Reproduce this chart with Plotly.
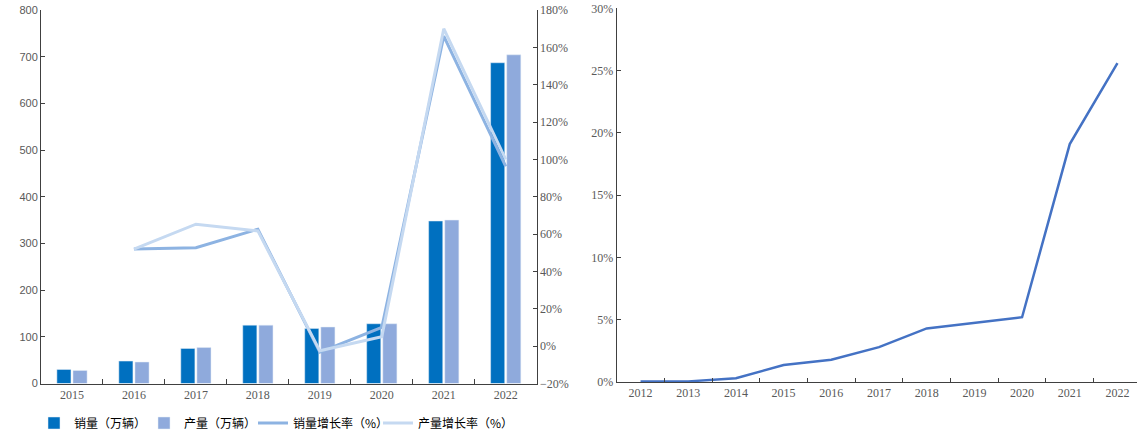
import plotly.graph_objects as go

years = ["2015", "2016", "2017", "2018", "2019", "2020", "2021", "2022"]
sales = [30, 48, 75, 125, 118, 128, 348, 687]
production = [28, 46, 77, 125, 121, 128, 350, 704]
sales_growth_years = ["2016", "2017", "2018", "2019", "2020", "2021", "2022"]
sales_growth = [52, 52.7, 62.6, -3.2, 10, 166, 96.3]
prod_growth = [52, 65.3, 61.7, -2.5, 5, 170, 100]

pen_years = ["2012", "2013", "2014", "2015", "2016", "2017", "2018", "2019", "2020", "2021", "2022"]
penetration = [0.05, 0.05, 0.3, 1.36, 1.78, 2.8, 4.3, 4.75, 5.2, 19.1, 25.6]

serif = "Liberation Serif, Times New Roman, serif"
narrow = "Liberation Sans Narrow, Liberation Sans, Arial, sans-serif"
cjk = "Noto Sans CJK SC, sans-serif"
grey = "#595959"
axis_col = "#404040"

fig = go.Figure()
fig.add_trace(go.Bar(x=years, y=sales, name="销量（万辆）", marker_color="#0070C0",
                     xaxis="x", yaxis="y", legend="legend"))
fig.add_trace(go.Bar(x=years, y=production, name="产量（万辆）", marker_color="#8FAADC",
                     xaxis="x", yaxis="y", legend="legend2"))
fig.add_trace(go.Scatter(x=sales_growth_years, y=sales_growth, name="销量增长率（%）",
                         mode="lines", line=dict(color="#8DB3E2", width=3),
                         xaxis="x", yaxis="y2", legend="legend3"))
fig.add_trace(go.Scatter(x=sales_growth_years, y=prod_growth, name="产量增长率（%）",
                         mode="lines", line=dict(color="#C5D9F1", width=3),
                         xaxis="x", yaxis="y2", legend="legend4"))
fig.add_trace(go.Scatter(x=pen_years, y=penetration, mode="lines", showlegend=False,
                         line=dict(color="#4472C4", width=2.5),
                         xaxis="x3", yaxis="y3"))

W, H = 1137, 437
ydom = [(H - 383.5) / H, (H - 10) / H]


def leg(xpx):
    return dict(orientation="h", x=xpx / W, y=(H - 423) / H, xanchor="left", yanchor="middle",
                font=dict(family=cjk, size=12, color="#000000"),
                itemwidth=30, bgcolor="rgba(0,0,0,0)")


fig.update_layout(
    width=W, height=H,
    margin=dict(l=0, r=0, t=0, b=0, autoexpand=False),
    paper_bgcolor="white", plot_bgcolor="white",
    barmode="group", bargap=0.48, bargroupgap=0.125,
    showlegend=True,
    legend=leg(34), legend2=leg(144), legend3=leg(253), legend4=leg(378),
    xaxis=dict(domain=[41 / W, 536.7 / W], anchor="y", type="category", automargin=False,
               range=[-0.5, 7.5],
               showline=True, linecolor=axis_col, linewidth=1,
               ticks="inside", ticklen=5, tickcolor=axis_col, tickson="boundaries",
               tickfont=dict(family=serif, size=12, color=grey), showgrid=False),
    yaxis=dict(domain=ydom, anchor="x", range=[0, 800], dtick=100, automargin=False,
               showline=True, linecolor=axis_col, linewidth=1,
               ticks="inside", ticklen=4, tickcolor=axis_col,
               tickfont=dict(family=narrow, size=11, color=grey), showgrid=False, zeroline=False),
    yaxis2=dict(domain=ydom, anchor="x", overlaying="y", side="right", range=[-20, 180], dtick=20,
                automargin=False,
                ticksuffix="%", showline=True, linecolor=axis_col, linewidth=1,
                ticks="inside", ticklen=4, tickcolor=axis_col,
                tickfont=dict(family=serif, size=12, color=grey), showgrid=False, zeroline=False),
    xaxis3=dict(domain=[616.7 / W, 1.0], anchor="y3", type="category", automargin=False,
                range=[-0.5, 10.41],
                showline=True, linecolor=axis_col, linewidth=1,
                ticks="inside", ticklen=4, tickcolor=axis_col, tickson="boundaries",
                tickfont=dict(family=serif, size=12, color=grey), showgrid=False),
    yaxis3=dict(domain=[(H - 382) / H, (H - 8.3) / H], anchor="x3", range=[0, 30], dtick=5,
                automargin=False,
                ticksuffix="%", showline=True, linecolor=axis_col, linewidth=1,
                ticks="inside", ticklen=4, tickcolor=axis_col,
                tickfont=dict(family=serif, size=12, color=grey), showgrid=False, zeroline=False),
)

fig.write_html("out.html", config={"displayModeBar": False},
               post_script="document.body.style.margin='0';document.body.style.overflow='hidden';")
